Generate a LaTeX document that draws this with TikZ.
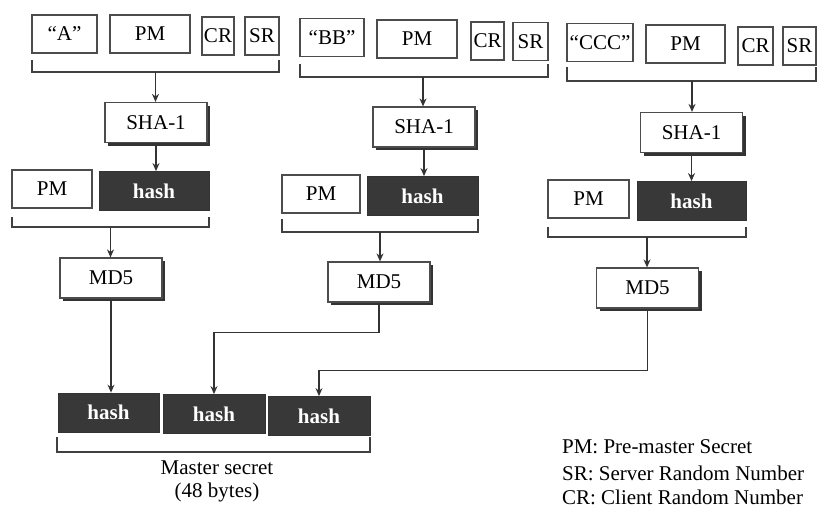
\documentclass[tikz,border=0pt]{standalone}
\usepackage{fontspec}
\setmainfont{Liberation Serif}
\usetikzlibrary{arrows.meta,shadows}

\begin{document}
\begin{tikzpicture}[
  x=0.5pt,y=-0.5pt,
  font=\fontsize{10.5}{12}\selectfont,
  cell/.style={draw=black!70,semithick,fill=white,minimum height=19pt,inner sep=0pt},
  func/.style={cell,minimum width=51pt,minimum height=20pt,
    drop shadow={shadow xshift=1.5pt,shadow yshift=-1.5pt,fill=black!80,opacity=1}},
  hashbox/.style={draw=black!80,fill=black!78,text=white,font=\fontsize{10.5}{12}\selectfont\bfseries,
    minimum height=19.5pt,inner sep=0pt},
  brace/.style={draw=black!75,semithick},
  arrow/.style={-{Stealth[length=4pt,width=3.5pt]},semithick,black!80}
]
\useasboundingbox (0,0) rectangle (817,508);
% first branch
\node[cell,minimum width=32.5pt] (qa) at (64.5,34) {“A”};
\node[cell,minimum width=40pt] (pma) at (150,34) {PM};
\node[cell,minimum width=16pt] (cra) at (218,36) {CR};
\node[cell,minimum width=17pt] (sra) at (262,36) {SR};
\draw[brace] (32,60) |- (279,72) -- (279,60);
\coordinate (ja) at (155.5,72);
\node[func] (shaa) at (156,122.5) {SHA-1};
\node[cell,minimum width=40pt] (pa) at (52,189) {PM};
\node[hashbox,minimum width=55pt] (hasha) at (154,191) {hash};
\draw[brace] (12,217) |- (209,227) -- (209,217);
\coordinate (ka) at (110.5,227);
\node[func] (mda) at (111,278) {MD5};
\draw[arrow] (ja) -- (ja |- shaa.north);
\draw[arrow] (shaa.south) -- (shaa.south |- hasha.north);
\draw[arrow] (ka) -- (ka |- mda.north);
% second branch
\node[cell,minimum width=32pt] (qb) at (332,37.5) {“BB”};
\node[cell,minimum width=40pt] (pmb) at (417,39) {PM};
\node[cell,minimum width=16.5pt] (crb) at (487.5,41) {CR};
\node[cell,minimum width=17.5pt] (srb) at (530.5,41.5) {SR};
\draw[brace] (300,64) |- (548,77) -- (548,64);
\coordinate (jb) at (423,77);
\node[func] (shab) at (424,127) {SHA-1};
\node[cell,minimum width=39pt] (pb) at (321,194) {PM};
\node[hashbox,minimum width=55.5pt] (hashb) at (422.5,196) {hash};
\draw[brace] (282,219) |- (478,232) -- (478,219);
\coordinate (kb) at (380,232);
\node[func] (mdb) at (379,282) {MD5};
\draw[arrow] (jb) -- (jb |- shab.north);
\draw[arrow] (shab.south) -- (shab.south |- hashb.north);
\draw[arrow] (kb) -- (kb |- mdb.north);
% third branch
\node[cell,minimum width=33pt] (qc) at (600,42.5) {“CCC”};
\node[cell,minimum width=39.5pt] (pmc) at (685.5,44) {PM};
\node[cell,minimum width=17.5pt] (crc) at (755.5,46) {CR};
\node[cell,minimum width=16.5pt] (src) at (799.5,46) {SR};
\draw[brace] (567,67) |- (816,81) -- (816,67);
\coordinate (jc) at (692,81);
\node[func] (shac) at (691.5,132.5) {SHA-1};
\node[cell,minimum width=40.5pt] (pc) at (588.5,199) {PM};
\node[hashbox,minimum width=54.5pt] (hashc) at (691.5,201) {hash};
\draw[brace] (548,227) |- (746,237) -- (746,227);
\coordinate (kc) at (647,237);
\node[func] (mdc) at (647.5,288) {MD5};
\draw[arrow] (jc) -- (jc |- shac.north);
\draw[arrow] (shac.south) -- (shac.south |- hashc.north);
\draw[arrow] (kc) -- (kc |- mdc.north);
% master secret
\node[hashbox,minimum width=50.5pt] (ha) at (108.5,412.5) {hash};
\node[hashbox,minimum width=51pt] (hb) at (214,414) {hash};
\node[hashbox,minimum width=51pt] (hc) at (319,416) {hash};
\draw[arrow] (mda.south) -- (mda.south |- ha.north);
\draw[arrow] (mdb.south) -- ++(0,30) -| (hb.north);
\draw[arrow] (mdc.south) -- ++(0,62) -| (hc.north);
\draw[brace] (57,437) |- (370,452) -- (370,437);
\node[align=center] (master) at (217,481) {Master secret\\[-0.5pt](48 bytes)};
% legend
\node[anchor=west] (lpm) at (555,447) {PM: Pre-master Secret};
\node[anchor=west] (lsr) at (555,473) {SR: Server Random Number};
\node[anchor=west] (lcr) at (555,497) {CR: Client Random Number};
\end{tikzpicture}
\end{document}
